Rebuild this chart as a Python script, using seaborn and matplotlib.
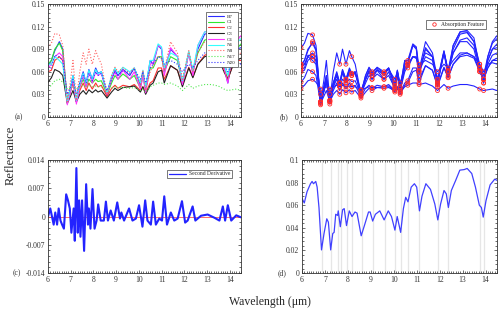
import matplotlib
matplotlib.use("Agg")
import matplotlib.pyplot as plt
import seaborn as sns
import numpy as np
from matplotlib.ticker import FixedLocator, AutoMinorLocator, FuncFormatter
from matplotlib.lines import Line2D

# wavelength grid (um) shared by the sample spectra
WL = [6.0, 6.15, 6.3, 6.5, 6.65, 6.85, 7.0, 7.1, 7.25, 7.4, 7.55, 7.68, 7.8, 7.95,
      8.1, 8.2, 8.35, 8.6, 8.8, 8.95, 9.08, 9.3, 9.6, 9.8, 10.07, 10.18, 10.3, 10.5,
      10.63, 10.85, 11.0, 11.12, 11.4, 11.7, 11.92, 12.2, 12.38, 12.6, 12.9, 13.2,
      13.5, 13.75, 13.92, 14.1, 14.3, 14.5]

B7 = [0.068, 0.075, 0.088, 0.100, 0.090, 0.020, 0.040, 0.055, 0.020, 0.045, 0.060, 0.045,
      0.063, 0.050, 0.065, 0.058, 0.060, 0.028, 0.050, 0.062, 0.055, 0.063, 0.055, 0.065,
      0.042, 0.060, 0.038, 0.075, 0.070, 0.095, 0.090, 0.060, 0.090, 0.080, 0.045, 0.085,
      0.060, 0.090, 0.110, 0.112, 0.100, 0.065, 0.045, 0.075, 0.090, 0.092]
C1 = [0.070, 0.075, 0.090, 0.098, 0.088, 0.020, 0.035, 0.050, 0.022, 0.040, 0.050, 0.040,
      0.050, 0.045, 0.050, 0.047, 0.048, 0.030, 0.045, 0.055, 0.050, 0.057, 0.050, 0.055,
      0.038, 0.055, 0.035, 0.065, 0.065, 0.080, 0.080, 0.060, 0.080, 0.075, 0.045, 0.086,
      0.060, 0.085, 0.102, 0.105, 0.095, 0.065, 0.050, 0.075, 0.090, 0.097]
C2 = [0.060, 0.062, 0.075, 0.080, 0.075, 0.018, 0.035, 0.045, 0.020, 0.035, 0.045, 0.035,
      0.045, 0.037, 0.045, 0.040, 0.042, 0.027, 0.038, 0.042, 0.038, 0.042, 0.040, 0.043,
      0.035, 0.040, 0.032, 0.045, 0.048, 0.065, 0.065, 0.050, 0.068, 0.062, 0.042, 0.066,
      0.053, 0.070, 0.082, 0.085, 0.080, 0.062, 0.050, 0.065, 0.075, 0.075]
C3 = [0.046, 0.052, 0.063, 0.060, 0.055, 0.018, 0.028, 0.035, 0.020, 0.030, 0.035, 0.030,
      0.036, 0.032, 0.036, 0.033, 0.035, 0.025, 0.033, 0.038, 0.035, 0.039, 0.040, 0.041,
      0.033, 0.040, 0.030, 0.042, 0.045, 0.060, 0.062, 0.045, 0.068, 0.062, 0.040, 0.065,
      0.052, 0.070, 0.080, 0.082, 0.078, 0.060, 0.050, 0.065, 0.075, 0.078]
C4 = [0.065, 0.070, 0.080, 0.085, 0.080, 0.016, 0.035, 0.050, 0.017, 0.040, 0.055, 0.040,
      0.060, 0.045, 0.060, 0.055, 0.058, 0.030, 0.050, 0.060, 0.050, 0.062, 0.050, 0.060,
      0.037, 0.055, 0.032, 0.070, 0.072, 0.095, 0.092, 0.055, 0.092, 0.080, 0.043, 0.085,
      0.055, 0.095, 0.113, 0.115, 0.105, 0.065, 0.045, 0.080, 0.100, 0.108]
N6 = [0.070, 0.070, 0.080, 0.075, 0.070, 0.020, 0.040, 0.055, 0.022, 0.045, 0.058, 0.045,
      0.062, 0.050, 0.063, 0.057, 0.060, 0.032, 0.055, 0.065, 0.058, 0.066, 0.060, 0.065,
      0.045, 0.062, 0.040, 0.075, 0.075, 0.097, 0.093, 0.065, 0.085, 0.080, 0.048, 0.087,
      0.062, 0.095, 0.113, 0.113, 0.100, 0.070, 0.055, 0.080, 0.098, 0.104]
N8 = [0.092, 0.098, 0.111, 0.109, 0.095, 0.020, 0.050, 0.075, 0.022, 0.060, 0.085, 0.070,
      0.090, 0.070, 0.088, 0.080, 0.070, 0.030, 0.055, 0.066, 0.060, 0.065, 0.058, 0.065,
      0.040, 0.062, 0.035, 0.060, 0.068, 0.080, 0.078, 0.062, 0.100, 0.085, 0.050, 0.088,
      0.060, 0.085, 0.100, 0.100, 0.090, 0.060, 0.050, 0.070, 0.082, 0.085]
N17 = [0.038, 0.042, 0.048, 0.050, 0.046, 0.037, 0.038, 0.040, 0.037, 0.040, 0.042, 0.040,
       0.042, 0.040, 0.041, 0.040, 0.040, 0.036, 0.038, 0.040, 0.039, 0.039, 0.038, 0.039,
       0.035, 0.037, 0.033, 0.040, 0.042, 0.045, 0.045, 0.043, 0.045, 0.041, 0.035, 0.043,
       0.038, 0.041, 0.043, 0.043, 0.041, 0.037, 0.035, 0.036, 0.037, 0.035]
N20 = [0.063, 0.065, 0.082, 0.080, 0.075, 0.030, 0.040, 0.050, 0.030, 0.045, 0.055, 0.045,
       0.058, 0.048, 0.060, 0.055, 0.058, 0.035, 0.050, 0.060, 0.055, 0.062, 0.058, 0.063,
       0.050, 0.060, 0.045, 0.065, 0.070, 0.080, 0.078, 0.070, 0.075, 0.070, 0.060, 0.070,
       0.065, 0.075, 0.085, 0.085, 0.080, 0.070, 0.060, 0.070, 0.072, 0.070]

SAMPLES = ["B7", "C1", "C2", "C3", "C4", "N6", "N8", "N17", "N20"]
SPECTRA = [B7, C1, C2, C3, C4, N6, N8, N17, N20]
COLORS = ["#2b2bff", "#2ee82e", "#ff3030", "#222222", "#ff33ff", "#33ffff",
          "#ff6060", "#55e855", "#3333ff"]
STYLES = ["-", "-", "-", "-", "-", "-", ":", ":", ":"]

# absorption feature wavelengths (panel b markers, panel d grey lines)
FEAT_B = [6.0, 6.5, 6.85, 7.25, 7.68, 7.95, 8.2, 8.6, 9.08, 9.6, 10.07, 10.3, 10.63,
          11.12, 11.92, 12.38, 13.75, 13.92]
FEAT_D = [6.85, 7.25, 7.55, 7.68, 7.95, 8.2, 8.6, 9.08, 9.6, 10.07, 10.3, 10.63,
          11.12, 11.92, 12.38, 13.75, 13.92]

# second derivative (panel c)
D2_WL = [6.0, 6.1, 6.25, 6.32, 6.4, 6.47, 6.55, 6.62, 6.7, 6.8, 6.88, 6.96, 7.03, 7.13,
         7.18, 7.25, 7.31, 7.37, 7.43, 7.5, 7.59, 7.68, 7.76, 7.8, 7.87, 7.96, 8.05, 8.14,
         8.21, 8.32, 8.46, 8.55, 8.64, 8.76, 8.9, 9.05, 9.17, 9.23, 9.35, 9.57, 9.72, 9.87,
         10.01, 10.16, 10.28, 10.38, 10.53, 10.63, 10.75, 10.9, 11.02, 11.12, 11.24, 11.41,
         11.56, 11.71, 11.9, 12.04, 12.15, 12.37, 12.49, 12.74, 13.03, 13.33, 13.55, 13.7,
         13.8, 13.92, 14.07, 14.29, 14.5]
D2 = [0.0, 0.002, -0.002, 0.001, -0.002, 0.002, -0.001, -0.002, -0.003, 0.0055, 0.004,
      0.002, -0.004, 0.002, -0.006, 0.012, -0.004, 0.004, -0.005, 0.004, -0.0085, 0.008,
      -0.002, 0.002, -0.003, 0.0068, -0.003, -0.001, 0.003, -0.001, -0.001, 0.0037, -0.001,
      0.0015, -0.001, 0.0035, -0.0005, 0.001, -0.001, 0.002, -0.001, -0.0005, 0.0028,
      -0.0025, 0.004, -0.001, -0.002, 0.0037, -0.002, -0.0005, -0.001, 0.005, -0.002, 0.001,
      -0.001, -0.0005, 0.0038, -0.0015, -0.001, 0.0025, -0.001, 0.0002, 0.0005, -0.0003,
      -0.001, 0.0025, -0.001, 0.0028, -0.001, 0.0003, -0.0002]

# mean spectrum (panel d)
D_WL = [6.0, 6.1, 6.22, 6.37, 6.44, 6.5, 6.6, 6.66, 6.74, 6.85, 6.96, 7.08, 7.15, 7.25,
        7.34, 7.4, 7.47, 7.55, 7.58, 7.67, 7.77, 7.84, 7.94, 8.06, 8.18, 8.31, 8.4, 8.58,
        8.72, 8.9, 8.97, 9.08, 9.2, 9.39, 9.58, 9.76, 9.9, 10.05, 10.15, 10.3, 10.42, 10.52,
        10.62, 10.76, 10.9, 11.0, 11.12, 11.23, 11.4, 11.6, 11.79, 11.92, 12.04, 12.19,
        12.29, 12.38, 12.51, 12.7, 12.88, 13.07, 13.2, 13.4, 13.56, 13.73, 13.82, 13.9,
        14.02, 14.2, 14.4, 14.5]
D_R = [0.066, 0.062, 0.072, 0.079, 0.081, 0.079, 0.081, 0.076, 0.058, 0.0205, 0.035,
       0.048, 0.045, 0.0205, 0.035, 0.036, 0.052, 0.051, 0.055, 0.041, 0.056, 0.057, 0.042,
       0.055, 0.050, 0.054, 0.053, 0.033, 0.042, 0.054, 0.054, 0.046, 0.052, 0.055, 0.047,
       0.055, 0.050, 0.038, 0.050, 0.036, 0.057, 0.067, 0.063, 0.076, 0.079, 0.076, 0.055,
       0.068, 0.079, 0.074, 0.061, 0.047, 0.061, 0.073, 0.070, 0.058, 0.073, 0.082, 0.091,
       0.0915, 0.0925, 0.088, 0.076, 0.060, 0.058, 0.0495, 0.064, 0.078, 0.083, 0.082]

sns.set_theme(style="ticks")
plt.rcParams["font.family"] = ["Liberation Serif", "DejaVu Serif"]

fig = plt.figure(figsize=(5, 3.1), dpi=100)
ax_a = fig.add_axes([0.096, 0.623, 0.386, 0.364])
ax_b = fig.add_axes([0.602, 0.623, 0.392, 0.364])
ax_c = fig.add_axes([0.096, 0.119, 0.386, 0.365])
ax_d = fig.add_axes([0.604, 0.119, 0.390, 0.365])

TICK_FS = 5.5
fmt = FuncFormatter(lambda v, p: "0" if abs(v) < 1e-12 else f"{v:g}")


def style_axes(ax, yticks, ymin, ymax):
    ax.set_xlim(6, 14.5)
    ax.set_ylim(ymin, ymax)
    ax.xaxis.set_major_locator(FixedLocator(list(range(6, 15))))
    ax.yaxis.set_major_locator(FixedLocator(yticks))
    ax.yaxis.set_major_formatter(fmt)
    ax.xaxis.set_minor_locator(AutoMinorLocator(10))
    ax.yaxis.set_minor_locator(AutoMinorLocator(5))
    ax.tick_params(which="both", direction="in", top=True, right=True,
                   labelsize=TICK_FS, width=0.5, pad=2, colors="#333333")
    ax.tick_params(which="major", length=2.5)
    ax.tick_params(which="minor", length=1.2)
    for s in ax.spines.values():
        s.set_linewidth(0.6)
        s.set_color("#333333")
    ax.set_xlabel("")
    ax.set_ylabel("")


# (a) spectra of each sample
for name, vals, col, ls in zip(SAMPLES, SPECTRA, COLORS, STYLES):
    sns.lineplot(x=WL, y=vals, ax=ax_a, color=col, linestyle=ls, lw=0.8, label=name)
style_axes(ax_a, [0, 0.03, 0.06, 0.09, 0.12, 0.15], 0, 0.15)
leg = ax_a.legend(loc="upper right", bbox_to_anchor=(0.997, 0.95), fontsize=3.6,
                  handlelength=3.2, handletextpad=0.6, labelspacing=0.25,
                  borderpad=0.4, fancybox=False, framealpha=1, edgecolor="#444444")
leg.get_frame().set_linewidth(0.5)

# (b) spectra with absorption features
wl_arr = np.array(WL)
feat_idx = [int(np.argmin(np.abs(wl_arr - f))) for f in FEAT_B]
for vals in SPECTRA:
    sns.lineplot(x=WL, y=vals, ax=ax_b, color="#2323ff", lw=0.8)
for vals in SPECTRA:
    v = np.array(vals)
    sns.scatterplot(x=wl_arr[feat_idx], y=v[feat_idx], ax=ax_b, marker="o", s=8,
                    facecolor="none", edgecolor="#ff2a2a", linewidth=0.6, zorder=5)
style_axes(ax_b, [0, 0.03, 0.06, 0.09, 0.12, 0.15], 0, 0.15)
h = Line2D([], [], marker="o", ls="", mfc="none", mec="#ff2a2a", ms=2.5, mew=0.6)
leg = ax_b.legend([h], ["Absorption Feature"], loc="upper right",
                  bbox_to_anchor=(0.96, 0.88), fontsize=4, handletextpad=0.4,
                  borderpad=0.35, fancybox=False, framealpha=1, edgecolor="#444444")
leg.get_frame().set_linewidth(0.5)

# (c) second derivative
ax_c.axhline(0, color="#ff3030", lw=0.5)
sns.lineplot(x=D2_WL, y=D2, ax=ax_c, color="#2323ff", lw=1.5, label="Second Derivative")
style_axes(ax_c, [-0.014, -0.007, 0, 0.007, 0.014], -0.014, 0.014)
leg = ax_c.legend(loc="upper right", bbox_to_anchor=(0.97, 0.94), fontsize=4,
                  handlelength=3.0, handletextpad=0.6, borderpad=0.35,
                  fancybox=False, framealpha=1, edgecolor="#444444")
leg.get_frame().set_linewidth(0.5)
for line in leg.get_lines():
    line.set_linewidth(0.9)

# (d) mean spectrum with feature positions
for f in FEAT_D:
    ax_d.axvline(f, color="#e6e6e6", lw=0.9, zorder=0)
sns.lineplot(x=D_WL, y=D_R, ax=ax_d, color="#4040ff", lw=0.9)
style_axes(ax_d, [0, 0.02, 0.04, 0.06, 0.08, 0.1], 0, 0.1)

for ax, lab, xo in [(ax_a, "(a)", -0.13), (ax_b, "(b)", -0.066),
                    (ax_c, "(c)", -0.14), (ax_d, "(d)", -0.082)]:
    ax.text(xo, 0, lab, transform=ax.transAxes, ha="right", va="center",
            fontsize=TICK_FS, color="#333333")

fig.text(0.022, 0.5, "Reflectance", rotation=90, ha="center", va="center", fontsize=9)
fig.text(0.54, 0.025, "Wavelength (\u03bcm)", ha="center", va="center", fontsize=8.5)

fig.savefig("out.png", dpi=100)
